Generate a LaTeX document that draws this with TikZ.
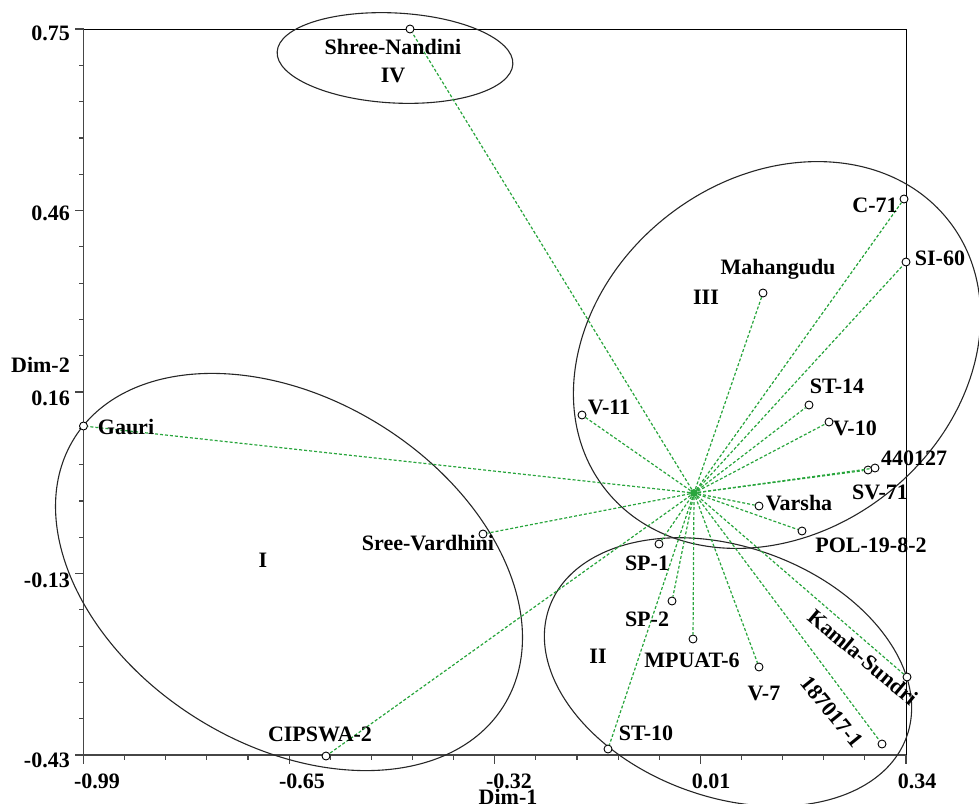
\documentclass[tikz,border=0pt]{standalone}
\usepackage{fontspec}
\setmainfont{Liberation Serif}
\usepackage{tikz}
\usetikzlibrary{positioning}
\definecolor{linkgreen}{RGB}{40,165,60}
\definecolor{axisgray}{RGB}{70,70,70}

\begin{document}
\begin{tikzpicture}[x=1pt,y=1pt,font=\fontsize{22}{24}\selectfont\bfseries,
  obs/.style={circle,draw,fill=white,inner sep=0pt,minimum size=8pt,line width=0.9pt},
  hubdot/.style={circle,fill=linkgreen,inner sep=0pt,minimum size=8pt},
  lbl/.style={inner sep=0pt},
  grp/.style={draw=black!85,line width=1.1pt},
  lnk/.style={linkgreen,line width=1.2pt,dash pattern=on 3pt off 2pt}]
\useasboundingbox (0,0) rectangle (979,-803);
% frame and axes
\draw[line width=0.9pt] (83.5,-29) -- (906,-29) -- (906,-755);
\draw[axisgray,line width=1.8pt] (83.5,-29) -- (83.5,-755) -- (906,-755);
\foreach \i in {0,...,20} {
  \draw[axisgray,line width=1.2pt] (83.5+41.125*\i,-755) -- ++(0,-5);
  \draw[axisgray,line width=1.2pt] (83.5,-29-36.3*\i) -- ++(-5,0);
}
\foreach \i in {0,5,...,20} {
  \draw[axisgray,line width=1.2pt] (83.5+41.125*\i,-755) -- ++(0,-9);
  \draw[axisgray,line width=1.2pt] (83.5,-29-36.3*\i) -- ++(-9,0);
}
\node[lbl,anchor=east] (y1) at (70,-33) {0.75};
\node[lbl,anchor=east] (y2) at (70,-213) {0.46};
\node[lbl,anchor=east] (y3) at (70,-398) {0.16};
\node[lbl,anchor=east] (y4) at (70,-580) {-0.13};
\node[lbl,anchor=east] (y5) at (70,-760) {-0.43};
\node[lbl,anchor=east] (dimy) at (70,-365) {Dim-2};
\node[lbl] (x1) at (97,-781) {-0.99};
\node[lbl] (x2) at (302,-781) {-0.65};
\node[lbl] (x3) at (509,-781) {-0.32};
\node[lbl] (x4) at (711,-781) {0.01};
\node[lbl] (x5) at (917,-781) {0.34};
\node[lbl] (dimx) at (508,-797) {Dim-1};

% cluster ellipses
\draw[grp,rotate around={-31.9:(289,-572)}] (289,-572) ellipse [x radius=253pt,y radius=173pt];
\draw[grp,rotate around={-20:(728,-672)}] (728,-672) ellipse [x radius=190pt,y radius=125pt];
\draw[grp,rotate around={37.8:(777,-355)}] (777,-355) ellipse [x radius=218pt,y radius=177pt];
\draw[grp,rotate around={-3:(395,-58)}] (395,-58) ellipse [x radius=118pt,y radius=45pt];

% genotypes
\node[hubdot] (hub) at (694,-493) {};
\node[obs] (nandini) at (410,-29) {};
\node[obs] (c71) at (904,-199) {};
\node[obs] (si60) at (906,-262) {};
\node[obs] (mahangudu) at (763,-293) {};
\node[obs] (v11) at (582,-415) {};
\node[obs] (st14) at (809,-405) {};
\node[obs] (v10) at (829,-422) {};
\node[obs] (sv71) at (868,-470) {};
\node[obs] (g440127) at (875,-468) {};
\node[obs] (varsha) at (759,-506) {};
\node[obs] (pol) at (802,-531) {};
\node[obs] (sp1) at (659,-544) {};
\node[obs] (sp2) at (672,-601) {};
\node[obs] (mpuat) at (693,-639) {};
\node[obs] (v7) at (759,-667) {};
\node[obs] (kamla) at (907,-677) {};
\node[obs] (g187017) at (882,-744) {};
\node[obs] (st10) at (608,-749) {};
\node[obs] (gauri) at (83.5,-426) {};
\node[obs] (vardhini) at (483,-534) {};
\node[obs] (cipswa) at (326,-756) {};

\draw[lnk] (hub)--(nandini); \draw[lnk] (hub)--(c71); \draw[lnk] (hub)--(si60);
\draw[lnk] (hub)--(mahangudu); \draw[lnk] (hub)--(v11); \draw[lnk] (hub)--(st14);
\draw[lnk] (hub)--(v10); \draw[lnk] (hub)--(sv71); \draw[lnk] (hub)--(g440127);
\draw[lnk] (hub)--(varsha); \draw[lnk] (hub)--(pol); \draw[lnk] (hub)--(sp1);
\draw[lnk] (hub)--(sp2); \draw[lnk] (hub)--(mpuat); \draw[lnk] (hub)--(v7);
\draw[lnk] (hub)--(kamla); \draw[lnk] (hub)--(g187017); \draw[lnk] (hub)--(st10);
\draw[lnk] (hub)--(gauri); \draw[lnk] (hub)--(vardhini); \draw[lnk] (hub)--(cipswa);

% labels
\node[lbl] (lnandini) at (393,-47) {Shree-Nandini};
\node[lbl] (liv) at (393,-75) {IV};
\node[lbl] (lc71) at (875,-205) {C-71};
\node[lbl] (lsi60) at (940,-258) {SI-60};
\node[lbl] (lmahangudu) at (778,-269) {Mahangudu};
\node[lbl] (liii) at (706,-297) {III};
\node[lbl] (lv11) at (609,-407) {V-11};
\node[lbl] (lst14) at (837,-386) {ST-14};
\node[lbl] (lv10) at (855,-428) {V-10};
\node[lbl] (l440127) at (914,-458) {440127};
\node[lbl] (lsv71) at (880,-492) {SV-71};
\node[lbl] (lvarsha) at (799,-503) {Varsha};
\node[lbl] (lpol) at (871,-545) {POL-19-8-2};
\node[lbl] (lsp1) at (647,-563) {SP-1};
\node[lbl] (lsp2) at (647,-619) {SP-2};
\node[lbl] (lmpuat) at (692,-660) {MPUAT-6};
\node[lbl] (lii) at (598,-656) {II};
\node[lbl] (lv7) at (764,-693) {V-7};
\node[lbl,rotate=-40] (lkamla) at (863,-657) {Kamla-Sundri};
\node[lbl,rotate=-51] (l187017) at (832,-712) {187017-1};
\node[lbl] (lst10) at (646,-733) {ST-10};
\node[lbl] (lgauri) at (126,-427) {Gauri};
\node[lbl] (lvardhini) at (428,-543) {Sree-Vardhini};
\node[lbl] (li) at (263,-560) {I};
\node[lbl] (lcipswa) at (320,-734) {CIPSWA-2};
\end{tikzpicture}
\end{document}
